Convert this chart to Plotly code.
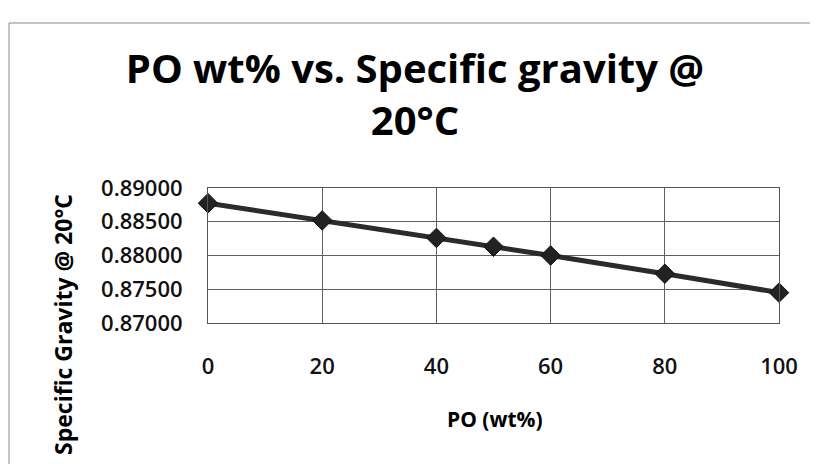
"""
PO wt% vs. specific gravity at 20 C - line chart recreation
"""

import plotly.graph_objects as go

# Data
po_wt = [0, 20, 40, 50, 60, 80, 100]
specific_gravity = [0.88775, 0.88520, 0.88260, 0.88130, 0.88000, 0.87730, 0.87450]

x_ticks = [0, 20, 40, 60, 80, 100]
y_ticks = [0.870, 0.875, 0.880, 0.885, 0.890]

TITLE = "PO wt% vs. Specific gravity @<br>20°C"
X_TITLE = "PO (wt%)"
Y_TITLE = "Specific Gravity @ 20°C"

FONT = "Open Sans"
# the page body adds an 8px margin, so work in screen pixels minus that
OFF = 8
W, H = 818 - OFF, 464 - OFF
# plot area in screen pixels
L, R, T, B = 208, 779, 188, 323


def px_x(p):
    return (p - L) / (R - L)


def px_y(p):
    return (B - p) / (B - T)


fig = go.Figure()

fig.add_trace(
    go.Scatter(
        x=po_wt,
        y=specific_gravity,
        mode="lines+markers",
        line=dict(color="#2b2b2b", width=5),
        marker=dict(symbol="diamond", size=15, color="#222222",
                    line=dict(color="#111111", width=1)),
        cliponaxis=False,
        showlegend=False,
    )
)

tick_font = dict(family=FONT, size=22, color="#111111", weight=600)

fig.update_layout(
    width=W,
    height=H,
    margin=dict(l=L - OFF, r=W + OFF - R, t=T - OFF, b=H + OFF - B),
    paper_bgcolor="white",
    plot_bgcolor="white",
    font=dict(family=FONT, color="#111111"),
    title=dict(
        text=f"<b>{TITLE}</b>",
        font=dict(family=FONT, size=40, color="#000000"),
        x=(415 - OFF) / W,
        xanchor="center",
        y=1 - (83 - OFF) / H,
        yanchor="middle",
        yref="container",
    ),
    xaxis=dict(
        range=[0, 100],
        tickvals=x_ticks,
        ticktext=[str(v) for v in x_ticks],
        tickfont=tick_font,
        ticklabelstandoff=24,
        showgrid=True,
        gridcolor="#606060",
        gridwidth=1,
        showline=True,
        linecolor="#555555",
        linewidth=1,
        mirror=True,
        zeroline=False,
        ticks="",
    ),
    yaxis=dict(
        range=[0.870, 0.890],
        tickvals=y_ticks,
        tickformat=".5f",
        tickfont=tick_font,
        ticklabelstandoff=20,
        showgrid=True,
        gridcolor="#606060",
        gridwidth=1,
        showline=True,
        linecolor="#555555",
        linewidth=1,
        mirror=True,
        zeroline=False,
        ticks="",
    ),
)

# axis titles placed as annotations, matching the original layout
fig.add_annotation(
    text=f"<b>{X_TITLE}</b>",
    xref="paper", yref="paper",
    x=px_x(495), y=px_y(419),
    xanchor="center", yanchor="middle",
    showarrow=False,
    font=dict(family=FONT, size=21, color="#000000"),
)
fig.add_annotation(
    text=f"<b>{Y_TITLE}</b>",
    xref="paper", yref="paper",
    x=px_x(63), y=px_y(325),
    xanchor="center", yanchor="middle",
    textangle=-90,
    showarrow=False,
    font=dict(family=FONT, size=23, color="#000000"),
)

# outer chart border (only left and top edges are visible in the scan)
border = dict(color="#8a8a8a", width=1)
fig.add_shape(type="line", xref="paper", yref="paper",
              x0=px_x(9), x1=px_x(9), y0=px_y(470), y1=px_y(23), line=border)
fig.add_shape(type="line", xref="paper", yref="paper",
              x0=px_x(9), x1=px_x(818), y0=px_y(23), y1=px_y(23), line=border)

fig.write_html("out.html")
